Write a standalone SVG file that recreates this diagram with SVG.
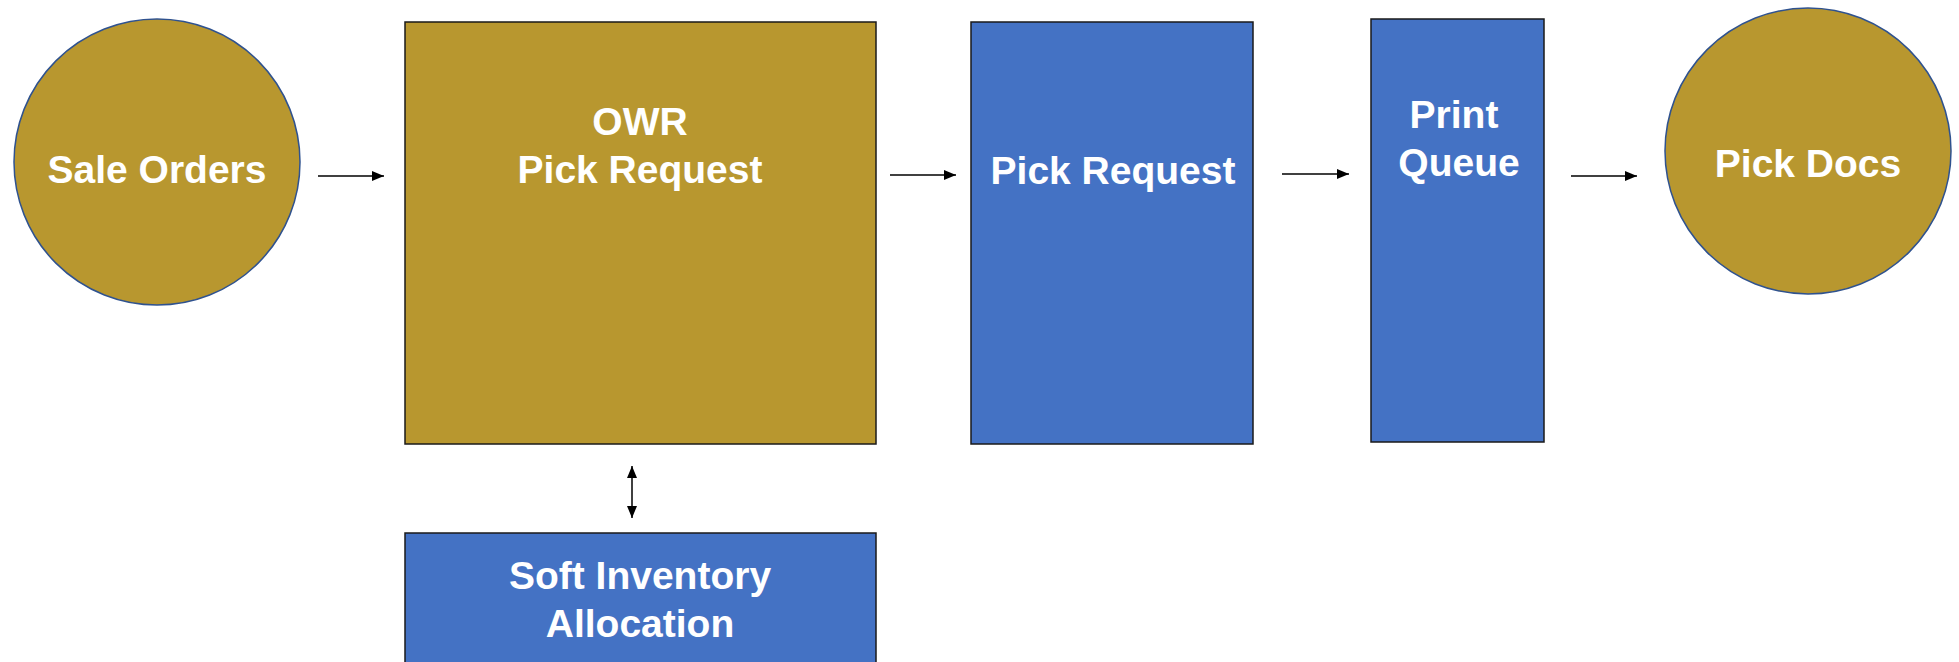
<svg xmlns="http://www.w3.org/2000/svg" width="1959" height="662" viewBox="0 0 1959 662">
<style>
.gold{fill:#B8972F}
.blue{fill:#4472C4}
.circ{stroke:#2F528F;stroke-width:1.5}
.box{stroke:#1a1a1a;stroke-width:1.5}
.t{font-family:"Liberation Sans",Arial,sans-serif;font-weight:bold;font-size:39px;fill:#ffffff;text-anchor:middle}
.c{stroke:#000;stroke-width:1.5;fill:none}
</style>
<defs>
<marker id="ah" viewBox="0 0 12 10" refX="12" refY="5" markerWidth="12" markerHeight="10" markerUnits="userSpaceOnUse" orient="auto-start-reverse">
<path d="M0,0 L12,5 L0,10 z" fill="#000"/>
</marker>
</defs>
<rect width="1959" height="662" fill="#ffffff"/>
<g id="connectors">
<line class="c" x1="318" y1="176" x2="384" y2="176" marker-end="url(#ah)"/>
<line class="c" x1="890" y1="175" x2="956" y2="175" marker-end="url(#ah)"/>
<line class="c" x1="1282" y1="174" x2="1349" y2="174" marker-end="url(#ah)"/>
<line class="c" x1="1571" y1="176" x2="1637" y2="176" marker-end="url(#ah)"/>
<line class="c" x1="632" y1="466" x2="632" y2="518" marker-start="url(#ah)" marker-end="url(#ah)"/>
</g>
<g id="sale-orders">
<circle class="gold circ" cx="157" cy="162" r="143"/>
<text class="t" x="157" y="183">Sale Orders</text>
</g>
<g id="owr-pick-request">
<rect class="gold box" x="405" y="22" width="471" height="422"/>
<text class="t" x="640" y="135">OWR</text>
<text class="t" x="640" y="183">Pick Request</text>
</g>
<g id="pick-request">
<rect class="blue box" x="971" y="22" width="282" height="422"/>
<text class="t" x="1113" y="184">Pick Request</text>
</g>
<g id="print-queue">
<rect class="blue box" x="1371" y="19" width="173" height="423"/>
<text class="t" x="1454" y="128">Print</text>
<text class="t" x="1459" y="176">Queue</text>
</g>
<g id="pick-docs">
<circle class="gold circ" cx="1808" cy="151" r="143"/>
<text class="t" x="1808" y="177">Pick Docs</text>
</g>
<g id="soft-inventory-allocation">
<rect class="blue box" x="405" y="533" width="471" height="140"/>
<text class="t" x="640" y="589">Soft Inventory</text>
<text class="t" x="640" y="637">Allocation</text>
</g>
</svg>
